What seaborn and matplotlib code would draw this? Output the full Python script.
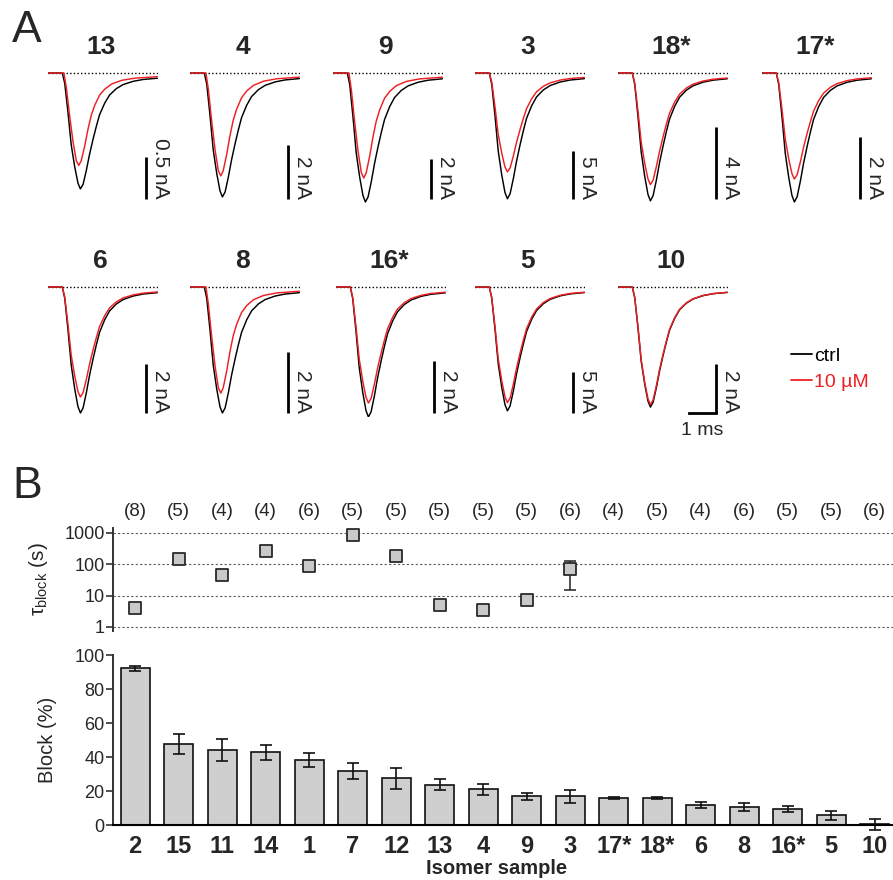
import numpy as np
import pandas as pd
import matplotlib
matplotlib.use("Agg")
import matplotlib.pyplot as plt
import seaborn as sns
from matplotlib.lines import Line2D
from matplotlib.ticker import NullLocator, FixedLocator, FixedFormatter
from matplotlib.transforms import blended_transform_factory

sns.set_theme(style="ticks")
plt.rcParams["font.family"] = ["Liberation Sans", "DejaVu Sans"]
plt.rcParams["mathtext.fontset"] = "custom"
plt.rcParams["mathtext.rm"] = "Liberation Sans"
plt.rcParams["mathtext.it"] = "Liberation Sans:italic"

RED = "#ee1f24"

# ---------------- Panel A data ----------------
panel_names = ["13", "4", "9", "3", "18*", "17*", "6", "8", "16*", "5", "10"]
ctrl_peak_nA = [1.38, 4.59, 6.45, 13.1, 7.1, 4.16, 5.14, 4.13, 5.0, 15.1, 4.9]
drug_peak_nA = [1.10, 3.81, 5.25, 10.3, 6.2, 3.42, 4.49, 3.48, 4.46, 14.1, 4.8]
scalebar_nA = [0.5, 2, 2, 5, 4, 2, 2, 2, 2, 5, 2]
scalebar_text = ["0.5 nA", "2 nA", "2 nA", "5 nA", "4 nA", "2 nA",
                 "2 nA", "2 nA", "2 nA", "5 nA", "2 nA"]
drug_kinetics = ["fast", "fast", "fast", "ctrl", "ctrl", "ctrl",
                 "ctrl", "fast", "ctrl", "ctrl", "ctrl"]

# normalised current templates (time in ms)
tmpl_ctrl_t = [0, 0.53, 0.62, 0.74, 0.86, 0.99, 1.11, 1.20, 1.30, 1.42, 1.54,
               1.67, 1.79, 1.91, 2.10, 2.28, 2.53, 2.78, 3.15, 3.52, 4.05]
tmpl_ctrl_i = [0, 0, 0.09, 0.34, 0.62, 0.81, 0.95, 1.00, 0.96, 0.84, 0.70,
               0.57, 0.46, 0.36, 0.26, 0.19, 0.135, 0.10, 0.072, 0.056, 0.045]
tmpl_fast_t = [0, 0.59, 0.68, 0.80, 0.93, 1.05, 1.14, 1.23, 1.36, 1.48, 1.60,
               1.73, 1.91, 2.10, 2.35, 2.72, 3.21, 4.05]
tmpl_fast_i = [0, 0, 0.16, 0.46, 0.75, 0.95, 1.00, 0.95, 0.79, 0.61, 0.46,
               0.35, 0.24, 0.175, 0.12, 0.08, 0.056, 0.04]

# ---------------- Panel B data ----------------
isomers = ["2", "15", "11", "14", "1", "7", "12", "13", "4", "9", "3",
           "17*", "18*", "6", "8", "16*", "5", "10"]
n_cells = [8, 5, 4, 4, 6, 5, 5, 5, 5, 5, 6, 4, 5, 4, 6, 5, 5, 6]
block_pct = [92.1, 47.6, 44.1, 42.7, 38.4, 31.7, 27.4, 23.8, 20.9, 16.9, 16.9,
             15.7, 15.7, 11.8, 10.8, 9.6, 5.7, 0.3]
block_sem = [1.5, 6.0, 6.7, 4.3, 4.0, 4.5, 6.0, 3.0, 3.4, 1.9, 3.9,
             0.6, 0.6, 1.6, 2.3, 1.7, 2.7, 3.4]
tau_s = [4.0, 150, 44, 260, 88, 860, 182, 5.2, 3.6, 7.4, 70] + [np.nan] * 7
tau_lo = [3.3, 105, 36, 220, 70, 760, 150, 4.3, 2.4, 6.0, 15.6] + [np.nan] * 7
tau_hi = [4.8, 190, 52, 300, 105, 960, 215, 6.0, 4.6, 8.8, 125] + [np.nan] * 7

# ---------------- layout (pixels) ----------------
W, H = 893, 880
fig = plt.figure(figsize=(W / 100, H / 100), dpi=100)


def px_axes(x0, y_top, w, h):
    return fig.add_axes([x0 / W, 1 - (y_top + h) / H, w / W, h / H])


PX_PER_MS = 27.0
panel_x0 = [48, 190, 333, 475, 618, 762, 48, 190, 336, 475, 618]
panel_base = [73] * 6 + [287] * 5
panel_gain = [84, 27, 20, 9.6, 18, 31, 24.5, 30.5, 26, 8.2, 24.5]  # px per nA
TOP_PAD, BOT_PAD, TRACE_W = 12, 130, 110
BAR_T_PX, BAR_BOT_PX = 98, 126
PT = 72 / 100  # points per pixel

for k, name in enumerate(panel_names):
    g = panel_gain[k]
    ax = px_axes(panel_x0[k], panel_base[k] - TOP_PAD, TRACE_W, TOP_PAD + BOT_PAD)
    ax.set_xlim(0, TRACE_W / PX_PER_MS)
    ax.set_ylim(-BOT_PAD / g, TOP_PAD / g)
    ax.axis("off")
    ax.axhline(0, color="black", lw=1.0, ls=(0, (1, 1.6)), zorder=1)
    ctrl = pd.DataFrame({"t": tmpl_ctrl_t,
                         "i": -ctrl_peak_nA[k] * np.array(tmpl_ctrl_i)})
    if drug_kinetics[k] == "fast":
        drug = pd.DataFrame({"t": tmpl_fast_t,
                             "i": -drug_peak_nA[k] * np.array(tmpl_fast_i)})
    else:
        drug = pd.DataFrame({"t": tmpl_ctrl_t,
                             "i": -drug_peak_nA[k] * np.array(tmpl_ctrl_i)})
    sns.lineplot(data=ctrl, x="t", y="i", sort=False, estimator=None,
                 color="black", lw=1.05, ax=ax, zorder=2)
    sns.lineplot(data=drug, x="t", y="i", sort=False, estimator=None,
                 color=RED, lw=1.05, ax=ax, zorder=3)
    ax.set_xlabel("")
    ax.set_ylabel("")
    # vertical scale bar
    tb = BAR_T_PX / PX_PER_MS
    yb = -BAR_BOT_PX / g
    ax.add_line(Line2D([tb, tb], [yb, yb + scalebar_nA[k]], color="black",
                       lw=2.0, clip_on=False, solid_capstyle="butt"))
    ax.text(tb + 5 / PX_PER_MS, yb, scalebar_text[k], rotation=-90,
            ha="left", va="bottom", fontsize=15)
    # title
    ax.annotate(name, xy=(0.48, 0), xycoords=("axes fraction", "data"),
                xytext=(0, 26 * PT), textcoords="offset points",
                ha="center", va="center", fontsize=19, fontweight="bold")
    if k == len(panel_names) - 1:
        ax.add_line(Line2D([tb - 1.0, tb], [yb, yb], color="black", lw=2.0,
                           clip_on=False, solid_capstyle="projecting"))
        ax.annotate("1 ms", xy=(tb - 0.5, yb), xycoords="data",
                    xytext=(0, -17 * PT), textcoords="offset points",
                    ha="center", va="center", fontsize=14)

fig.legend(handles=[Line2D([], [], color="black", lw=1.3),
                    Line2D([], [], color=RED, lw=1.3)],
           labels=["ctrl", "10 µM"], labelcolor=["black", RED],
           frameon=False, fontsize=14, handlelength=1.1, handletextpad=0.1,
           labelspacing=0.45, borderpad=0, borderaxespad=0,
           loc="upper left", bbox_to_anchor=(791 / W, 1 - 347 / H))

fig.text(27 / W, 1 - 31 / H, "A", fontsize=32, ha="center", va="center")
fig.text(27 / W, 1 - 486 / H, "B", fontsize=32, ha="center", va="center")

# ---------------- Panel B: tau ----------------
xpos = np.arange(len(isomers))
XLIM = (-0.51, 17.42)
ax_t = px_axes(113, 528, 780, 103)
tau_arr = np.array(tau_s)
err = np.vstack([tau_arr - np.array(tau_lo), np.array(tau_hi) - tau_arr])
ax_t.errorbar(xpos, tau_arr, yerr=err, fmt="none", ecolor="#222222",
              elinewidth=1.1, capsize=4, capthick=1.1, zorder=3)
sns.scatterplot(x=xpos, y=tau_arr, marker="s", s=85, color="#c9c9c9",
                edgecolor="#2a2a2a", linewidth=1.3, ax=ax_t, zorder=4)
ax_t.set_yscale("log")
ax_t.set_ylim(0.745, 1443)
ax_t.set_xlim(*XLIM)
ax_t.yaxis.set_major_locator(FixedLocator([1, 10, 100, 1000]))
ax_t.yaxis.set_major_formatter(FixedFormatter(["1", "10", "100", "1000"]))
ax_t.yaxis.set_minor_locator(NullLocator())
ax_t.yaxis.grid(True, linestyle=(0, (2, 2)), color="0.35", lw=0.8)
ax_t.set_xticks([])
for s in ["top", "right", "bottom"]:
    ax_t.spines[s].set_visible(False)
ax_t.spines["left"].set_color("#333333")
ax_t.spines["left"].set_linewidth(1.4)
ax_t.tick_params(axis="y", length=5, width=1.2, color="#333333",
                 labelsize=13, pad=1)
ax_t.set_ylabel("τ$_{\\rm block}$ (s)", fontsize=15)
ax_t.yaxis.set_label_coords((50 - 113) / 780, 0.5)
tr = blended_transform_factory(ax_t.transData, ax_t.transAxes)
for i, n in enumerate(n_cells):
    ax_t.text(xpos[i], 1 + 16 / 103, f"({n})", transform=tr, ha="center",
              va="center", fontsize=13.5)

# ---------------- Panel B: block bars ----------------
ax_b = px_axes(113, 655, 780, 170)
bdf = pd.DataFrame({"isomer": isomers, "block": block_pct})
sns.barplot(data=bdf, x="isomer", y="block", order=isomers, color="#cfcfcf",
            saturation=1, edgecolor="#111111", linewidth=1.2, width=0.67,
            errorbar=None, ax=ax_b, zorder=2)
eb = ax_b.errorbar(xpos, block_pct, yerr=block_sem, fmt="none",
                   ecolor="#111111", elinewidth=1.2, capsize=4.5,
                   capthick=1.2, zorder=3)
for art in list(eb.lines[1]) + list(eb.lines[2]):
    art.set_clip_on(False)
ax_b.set_xlim(*XLIM)
ax_b.set_ylim(0, 100)
ax_b.set_yticks([0, 20, 40, 60, 80, 100])
for s in ["top", "right"]:
    ax_b.spines[s].set_visible(False)
ax_b.spines["left"].set_color("#333333")
ax_b.spines["left"].set_linewidth(1.4)
ax_b.spines["bottom"].set_color("black")
ax_b.spines["bottom"].set_linewidth(1.5)
ax_b.tick_params(axis="y", length=5, width=1.2, color="#333333",
                 labelsize=13, pad=1)
ax_b.tick_params(axis="x", length=0, pad=7, labelsize=17)
for lab in ax_b.get_xticklabels():
    lab.set_fontweight("bold")
ax_b.set_ylabel("Block (%)", fontsize=14.5)
ax_b.yaxis.set_label_coords((57 - 113) / 780, 0.5)
ax_b.set_xlabel("Isomer sample", fontsize=14.5, fontweight="bold")
ax_b.xaxis.set_label_coords((497 - 113) / 780, (825 - 859) / 170)

fig.savefig("out.png", dpi=100)
